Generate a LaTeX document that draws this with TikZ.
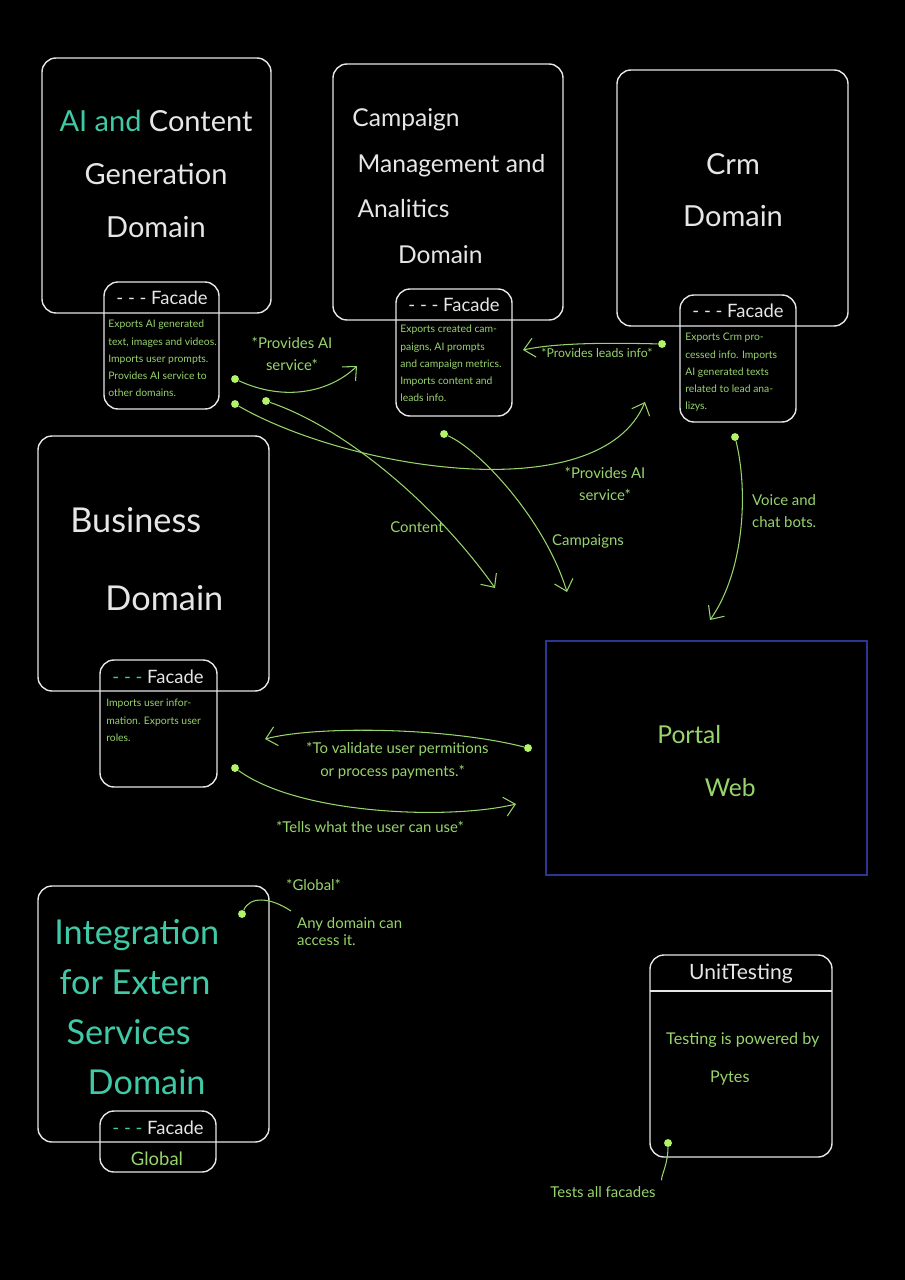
\documentclass[tikz,border=0pt]{standalone}
\usepackage{fontspec}
\setmainfont{Lato}
\usetikzlibrary{arrows.meta}

\definecolor{chalk}{HTML}{E6E6E6}
\definecolor{leaf}{HTML}{98D46C}
\definecolor{lime}{HTML}{B2F36A}
\definecolor{mint}{HTML}{3FC9A6}
\definecolor{portalblue}{HTML}{2B3593}

\begin{document}
\begin{tikzpicture}[x=0.02cm, y=-0.02cm,
		box/.style={draw=chalk, line width=0.8pt, rounded corners=8pt},
		dot/.style={circle, fill=lime, inner sep=0pt, minimum size=4.5pt},
		link/.style={leaf, line width=0.6pt},
		note/.style={text=leaf, font=\fontsize{8.5}{13}\selectfont, align=center},
		title/.style={text=chalk, inner sep=0pt},
		facadehead/.style={text=chalk, font=\fontsize{10.5}{12}\selectfont, inner sep=0pt},
		facadetxt/.style={text=leaf, font=\fontsize{5.9}{9.8}\selectfont, align=left, anchor=north west, inner sep=0pt},
		>={Straight Barb[length=6pt,width=11pt]}]
		
		\fill[black] (0, 0) rectangle (905, 1280); % Фон
		\useasboundingbox (0, 0) rectangle (905, 1280);
		
		% AI and Content
		\draw[box] (42, 58) rectangle (271, 313);
		\draw[box] (104, 282) rectangle (219, 409);
		\node[title, align=center, font=\fontsize{16.5}{30}\selectfont] (aiTitle) at (156, 174) {\textcolor{mint}{AI and} Content\\Generation\\Domain};
		\node[facadehead] (aiHead) at (162, 298) {- - - Facade};
		\node[facadetxt] (aiBody) at (108, 320) {Exports AI generated\\text, images and videos.\\Imports user prompts.\\Provides AI service to\\other domains.};
		
		% Campaign
		\draw[box] (333, 64) rectangle (563, 320);
		\draw[box] (396, 289) rectangle (512, 416);
		\node[title, align=left, anchor=west, font=\fontsize{14}{26}\selectfont] (campTitle) at (352, 186) {Campaign\\\hspace*{3pt}Management and\\\hspace*{3pt}Analitics\\\hspace*{26pt}Domain};
		\node[facadehead] (campHead) at (454, 305) {- - - Facade};
		\node[facadetxt] (campBody) at (400, 325) {Exports created cam-\\paigns, AI prompts\\and campaign metrics.\\Imports content and\\leads info.};
		
		% Crm
		\draw[box] (617, 70) rectangle (848, 326);
		\draw[box] (680, 295) rectangle (796, 422);
		\node[title, align=center, font=\fontsize{16.5}{30}\selectfont] (crmTitle) at (733, 190) {Crm\\Domain};
		\node[facadehead] (crmHead) at (738, 311) {- - - Facade};
		\node[facadetxt] (crmBody) at (685, 333) {Exports Crm pro-\\cessed info. Imports\\AI generated texts\\related to lead ana-\\lizys.};
		
		% Business
		\draw[box] (38, 436) rectangle (269, 691);
		\draw[box] (100, 660) rectangle (217, 787);
		\node[title, align=left, anchor=west, font=\fontsize{19.5}{44}\selectfont] (bizTitle) at (70, 559) {Business\\\hspace*{20pt}Domain};
		\node[facadehead] (bizHead) at (158, 677) {\textcolor{mint}{- - -} Facade};
		\node[facadetxt] (bizBody) at (106, 699) {Imports user infor-\\mation. Exports user\\roles.};
		
		% Portal Web
		\draw[portalblue, line width=0.9pt] (546, 641) rectangle (867, 875);
		\node[title, text=leaf, align=left, anchor=west, font=\fontsize{14}{30}\selectfont] (portalTitle) at (657, 761) {Portal\\\hspace*{27pt}Web};
		
		% Integration
		\draw[box] (38, 886) rectangle (269, 1142);
		\draw[box] (100, 1111) rectangle (216, 1172);
		\node[title, text=mint, align=left, anchor=west, font=\fontsize{19.5}{28.5}\selectfont] (intTitle) at (54, 1007) {Integration\\\hspace*{3pt}for Extern\\\hspace*{7pt}Services\\\hspace*{19pt}Domain};
		\node[facadehead] (intHead) at (158, 1128) {\textcolor{mint}{- - -} Facade};
		\node[title, text=leaf, font=\fontsize{10.5}{12}\selectfont] (intGlobal) at (157, 1159) {Global};
		
		% UnitTesting
		\draw[box] (650, 955) rectangle (832, 1157);
		\draw[chalk, line width=0.8pt] (650, 991) -- (832, 991);
		\node[title, font=\fontsize{12}{14}\selectfont] (testHead) at (741, 974) {UnitTesting};
		\node[note, align=left, anchor=west, font=\fontsize{9.2}{22}\selectfont] (testBody) at (660, 1059) {Testing is powered by\\\hspace*{25pt}Pytes};
		
		% Точки
		\node[dot] (aiDotA) at (235, 379) {};
		\node[dot] (aiDotB) at (235, 404) {};
		\node[dot] (aiDotC) at (266, 401) {};
		\node[dot] (campDot) at (444, 434) {};
		\node[dot] (crmDotA) at (662, 344) {};
		\node[dot] (crmDotB) at (735, 437) {};
		\node[dot] (portalDot) at (528, 748) {};
		\node[dot] (bizDot) at (235, 768) {};
		\node[dot] (globalDot) at (242, 914) {};
		\node[dot] (testDot) at (668, 1143) {};
		
		\coordinate (aiTip) at (357, 366);
		\coordinate (aiCrmTip) at (645, 402);
		\coordinate (contentTip) at (495, 588);
		\coordinate (campTip) at (567, 592);
		\coordinate (leadsTip) at (523, 350);
		\coordinate (voiceTip) at (710, 620);
		\coordinate (permTip) at (265, 739);
		\coordinate (tellsTip) at (516, 804);
		
		% Подписи
		\node[note] (aiNote) at (292, 354) {*Provides AI\\service*};
		\node[note] (crmNote) at (605, 484) {*Provides AI\\service*};
		\node[note] (contentNote) at (417, 527) {Content};
		\node[note] (campNote) at (588, 541) {Campaigns};
		\node[note, font=\fontsize{7}{9}\selectfont] (leadsNote) at (597, 353) {*Provides leads info*};
		\node[note, align=left, anchor=west] (voiceNote) at (746, 511) {Voice and\\chat bots.};
		\node[note, align=left, anchor=west] (permNote) at (300, 761) {*To validate user permitions\\\hspace*{8pt}or process payments.*};
		\node[note] (tellsNote) at (370, 827) {*Tells what the user can use*};
		\node[note, anchor=west] (globalNote) at (280, 885) {*Global*};
		\node[note, align=left, anchor=north west, font=\fontsize{8.5}{10}\selectfont] (anyNote) at (291, 911) {Any domain can\\access it.};
		\node[note] (testsNote) at (603, 1192) {Tests all facades};
		
		% Стрелки
		\draw[link, ->] (aiDotA) .. controls (285, 402) and (330, 392) .. (aiTip);
		\draw[link, ->] (aiDotB) .. controls (350, 470) and (600, 510) .. (aiCrmTip);
		\draw[link, ->] (aiDotC) .. controls (350, 430) and (440, 510) .. (contentTip);
		\draw[link, ->] (campDot) .. controls (480, 450) and (545, 520) .. (campTip);
		\draw[link, ->] (crmDotA) .. controls (620, 343) and (560, 342) .. (leadsTip);
		\draw[link, ->] (crmDotB) .. controls (748, 490) and (745, 570) .. (voiceTip);
		\draw[link, ->] (portalDot) .. controls (450, 728) and (320, 725) .. (permTip);
		\draw[link, ->] (bizDot) .. controls (300, 815) and (450, 820) .. (tellsTip);
		\draw[link] (globalDot) .. controls (250, 896) and (270, 897) .. (anyNote.north west);
		\draw[link] (testDot) .. controls (668, 1165) and (660, 1178) .. (testsNote.north east);
	\end{tikzpicture}
\end{document}
